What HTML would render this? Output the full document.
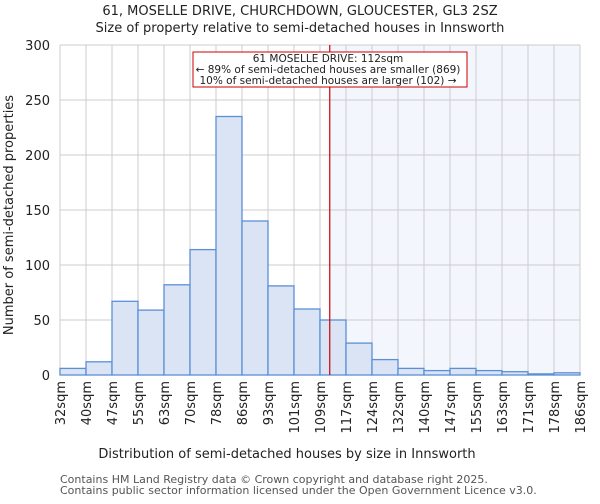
<!DOCTYPE html>
<html><head><meta charset="utf-8"><style>
body{margin:0;background:#fff;font-family:"DejaVu Sans","Liberation Sans",sans-serif}
</style></head><body>
<svg id="c" width="600" height="500" xmlns="http://www.w3.org/2000/svg" font-family="DejaVu Sans, Liberation Sans, sans-serif">
<text x="300" y="15" text-anchor="middle" font-size="13" fill="#222">61, MOSELLE DRIVE, CHURCHDOWN, GLOUCESTER, GL3 2SZ</text>
<text x="300" y="32" text-anchor="middle" font-size="13" fill="#222">Size of property relative to semi-detached houses in Innsworth</text>
<g id="plot"></g>
<text x="287" y="458" text-anchor="middle" font-size="13" fill="#222">Distribution of semi-detached houses by size in Innsworth</text>
<text transform="translate(13,215) rotate(-90)" text-anchor="middle" font-size="13" fill="#222">Number of semi-detached properties</text>
<text x="60" y="483" font-size="11" fill="#555">Contains HM Land Registry data © Crown copyright and database right 2025.</text>
<text x="60" y="494" font-size="11" fill="#555">Contains public sector information licensed under the Open Government Licence v3.0.</text>
</svg>
<script>
const edgeLabels=["32sqm","40sqm","47sqm","55sqm","63sqm","70sqm","78sqm","86sqm","93sqm","101sqm","109sqm","117sqm","124sqm","132sqm","140sqm","147sqm","155sqm","163sqm","171sqm","178sqm","186sqm"];
const counts=[6,12,67,59,82,114,235,140,81,60,50,29,14,6,4,6,4,3,1,2];
const yTicks=[0,50,100,150,200,250,300];
const markerValue=112;
const binStarts=[32,40,47,55,63,70,78,86,93,101,109,117,124,132,140,147,155,163,171,178,186];
const X0=60,X1=580,Y0=375,Y1=45,YMAX=300;
const NS="http://www.w3.org/2000/svg";
const g=document.getElementById('plot');
const n=counts.length,bw=(X1-X0)/n;
const xs=i=>X0+i*bw;
const ys=v=>Y0-(v/YMAX)*(Y0-Y1);
function xv(v){for(let i=0;i<binStarts.length-1;i++){if(v>=binStarts[i]&&v<=binStarts[i+1])return xs(i)+(v-binStarts[i])/(binStarts[i+1]-binStarts[i])*bw;}return X1;}
function mk(t,a){const e=document.createElementNS(NS,t);for(const k in a)e.setAttribute(k,a[k]);g.appendChild(e);return e;}
const mx=xv(markerValue);
let e=mk('rect',{x:mx,y:Y1,width:X1-mx,height:Y0-Y1,fill:'#f3f6fd'});


for(let i=0;i<=n;i++){e=mk('line',{x1:xs(i),x2:xs(i),y1:Y1,y2:Y0,stroke:'#ccc','stroke-width':1});

}
yTicks.forEach(t=>{e=mk('line',{x1:X0,x2:X1,y1:ys(t),y2:ys(t),stroke:'#ccc','stroke-width':1});


e=mk('text',{x:X0-10,y:ys(t)+5,'text-anchor':'end','font-size':13,fill:'#222'});e.textContent=t;

});
counts.forEach((c,i)=>{e=mk('rect',{x:xs(i),y:ys(c),width:bw,height:Y0-ys(c),fill:'#dae4f4',stroke:'#5b8fd6','stroke-width':1.3});

});
edgeLabels.forEach((l,i)=>{e=mk('text',{transform:`translate(${xs(i)+5},381) rotate(-90)`,'text-anchor':'end','font-size':13,fill:'#222'});e.textContent=l;

});
e=mk('line',{x1:mx,x2:mx,y1:Y1,y2:Y0,stroke:'#cc0000','stroke-width':1.2});


e=mk('rect',{x:193,y:52,width:274,height:35,fill:'#fff',stroke:'#cc0000','stroke-width':1});


["61 MOSELLE DRIVE: 112sqm","← 89% of semi-detached houses are smaller (869)","10% of semi-detached houses are larger (102) →"].forEach((t,i)=>{
e=mk('text',{x:328,y:62+i*11,'text-anchor':'middle','font-size':10.5,fill:'#222'});e.textContent=t;

});
</script>
</body></html>
